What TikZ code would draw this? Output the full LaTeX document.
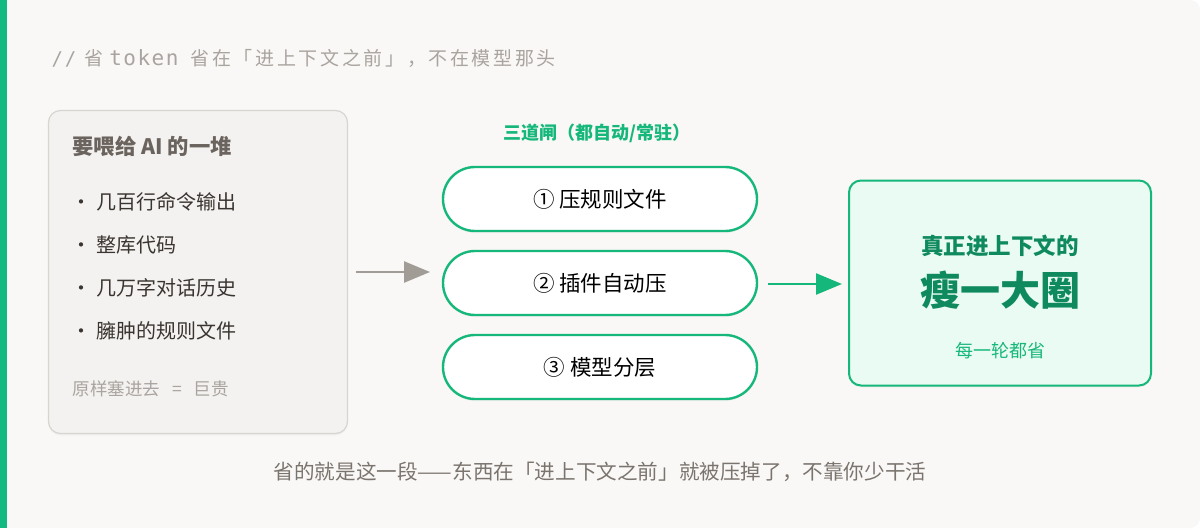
\documentclass[tikz,border=0pt]{standalone}
\usepackage{fontspec}
\setmainfont{Noto Sans CJK SC}
\newfontfamily\monofont{DejaVu Sans Mono}
\usetikzlibrary{arrows.meta,shadows}
\definecolor{bgpaper}{HTML}{F9F8F6}
\definecolor{barGreen}{HTML}{12B981}
\definecolor{pileFill}{HTML}{F3F2F0}
\definecolor{pileLine}{HTML}{D8D5D1}
\definecolor{pileHead}{HTML}{6B635D}
\definecolor{pileText}{HTML}{3A3531}
\definecolor{dimText}{HTML}{A9A49F}
\definecolor{arrowGray}{HTML}{A29C97}
\definecolor{gateGreen}{HTML}{16B77B}
\definecolor{slimFill}{HTML}{E9FBF2}
\definecolor{slimText}{HTML}{0F8A5E}
\definecolor{noteText}{HTML}{7B746E}
\begin{document}
\begin{tikzpicture}[x=1pt, y=-1pt,
    pilebox/.style={draw=pileLine, line width=1.2pt, fill=pileFill, rounded corners=12pt,
      drop shadow={opacity=0.06, shadow xshift=0pt, shadow yshift=-2pt}},
    pileitem/.style={anchor=west, text=pileText, font=\fontsize{20}{22}\selectfont},
    gatepill/.style={draw=gateGreen, line width=2.4pt, fill=white, rounded corners=32pt,
      minimum width=314pt, minimum height=64pt, text=black,
      font=\fontsize{21.5}{23}\selectfont,
      drop shadow={opacity=0.06, shadow xshift=0pt, shadow yshift=-2pt}},
    slimbox/.style={draw=gateGreen, line width=2pt, fill=slimFill, rounded corners=12pt,
      minimum width=302pt, minimum height=205pt,
      drop shadow={opacity=0.06, shadow xshift=0pt, shadow yshift=-2pt}},
    flow/.style={-{Triangle[length=26pt, width=21pt]}, line width=2.5pt}]
  % paper and side bar
  \fill[bgpaper, rounded corners=10pt] (0,0) rectangle (1200,528);
  \fill[barGreen] (0,0) rectangle (7,528);
  \useasboundingbox (0,0) rectangle (1200,528);

  % heading
  \node[anchor=west, text=dimText, font=\fontsize{19}{21}\selectfont\addfontfeatures{LetterSpace=14}] (head) at (48,58)
    {{\monofont\addfontfeatures{LetterSpace=10}//}\hspace{8pt}省\hspace{6pt}{\monofont\fontsize{21}{23}\selectfont\addfontfeatures{LetterSpace=7}token}\hspace{12pt}省在「进上下文之前」，不在模型那头};

  % the pile
  \node[pilebox, minimum width=299pt, minimum height=323pt] (pile) at (198,272) {};
  \node[anchor=west, text=pileHead, font=\fontsize{21.3}{23}\selectfont\bfseries] (pilehead) at (69,146) {要喂给 AI 的一堆};
  \node[pileitem] (item1) at (68,202) {·\hspace{5pt}几百行命令输出};
  \node[pileitem] (item2) at (68,245) {·\hspace{5pt}整库代码};
  \node[pileitem] (item3) at (68,288) {·\hspace{5pt}几万字对话历史};
  \node[pileitem] (item4) at (68,331) {·\hspace{5pt}臃肿的规则文件};
  \node[anchor=west, text=dimText, font=\fontsize{17.5}{19}\selectfont] (pricey) at (69,389) {原样塞进去\hspace{12pt}=\hspace{12pt}巨贵};

  % the gates
  \node[text=gateGreen, font=\fontsize{18}{20}\selectfont\bfseries] (gatehead) at (597,133) {三道闸（都自动/常驻）};
  \node[gatepill] (gate1) at (600,199) {① 压规则文件};
  \node[gatepill] (gate2) at (600,283) {② 插件自动压};
  \node[gatepill] (gate3) at (600,367) {③ 模型分层};

  % result
  \node[slimbox] (slim) at (1000,283) {};
  \node[text=slimText, font=\fontsize{22.5}{24}\selectfont\bfseries] (slimtop) at (1000,246) {真正进上下文的};
  \node[text=slimText, font=\fontsize{40}{42}\selectfont\bfseries] (slimbig) at (1000,290) {瘦一大圈};
  \node[text=gateGreen, font=\fontsize{18}{20}\selectfont] (slimnote) at (1000,351) {每一轮都省};

  % arrows
  \coordinate (inA) at (356,272);
  \coordinate (inB) at (430,272);
  \draw[flow, draw=arrowGray, fill=arrowGray] (inA) -- (inB);
  \coordinate (outA) at (768,284);
  \coordinate (outB) at (842,284);
  \draw[flow, draw=gateGreen, fill=gateGreen] (outA) -- (outB);

  % footnote
  \node[text=noteText, font=\fontsize{20.6}{22}\selectfont] (foot) at (600,472)
    {省的就是这一段——东西在「进上下文之前」就被压掉了，不靠你少干活};
\end{tikzpicture}
\end{document}
